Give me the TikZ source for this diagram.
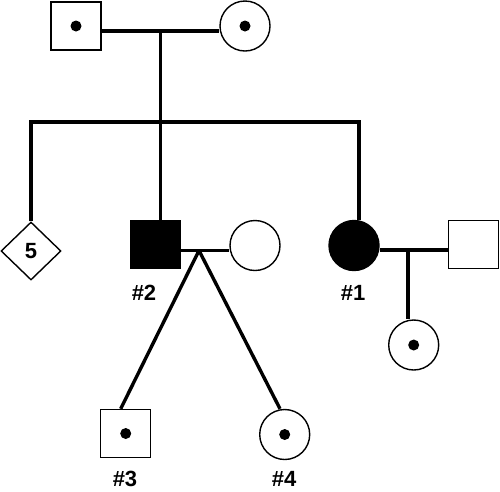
\documentclass[tikz,border=0pt]{standalone}
\usepackage{fontspec}
\setmainfont{Liberation Sans}
\usetikzlibrary{shapes.geometric}

\begin{document}
\begin{tikzpicture}[x=1pt, y=-1pt,
    male/.style = {draw, rectangle, line width=1.4pt, minimum width=50pt, minimum height=48pt, inner sep=0pt},
    female/.style = {draw, circle, line width=1.4pt, minimum size=50pt, inner sep=0pt},
    unknown/.style = {draw, diamond, line width=1.4pt, minimum width=60pt, minimum height=58pt, inner sep=0pt, font=\bfseries\fontsize{22}{22}\selectfont},
    affected/.style = {fill=black},
    carrier/.style = {path picture={\fill (path picture bounding box.center) circle (5.5pt);}},
    tag/.style = {font=\bfseries\fontsize{22}{22}\selectfont},
    link/.style = {line width=3.4pt}]
    \useasboundingbox (0,0) rectangle (500,491);

    \node[male, carrier] (gf) at (76,26) {};
    \node[female, carrier] (gm) at (245,26) {};

    \node[unknown] (sib5) at (31,251) {5};
    \node[male, affected] (p2) at (155.5,244.5) {};
    \node[female] (sp2) at (255,245.5) {};
    \node[female, affected] (p1) at (354,245.5) {};
    \node[male] (sp1) at (473.5,244.5) {};

    \node[male, carrier] (p3) at (125.7,433.5) {};
    \node[female, carrier] (p4) at (284.7,434.5) {};
    \node[female, carrier] (ch1) at (413.7,345) {};

    \node[tag] (l2) at (144,293) {\#2};
    \node[tag] (l1) at (353,293) {\#1};
    \node[tag] (l3) at (125,479) {\#3};
    \node[tag] (l4) at (284,479) {\#4};

    \coordinate (m0) at (160.7,31);
    \coordinate (sib) at (160.7,122);
    \coordinate (m2) at (199,250.5);
    \coordinate (m1) at (408,250);

    \draw[link] (gf.east |- m0) -- (m0 -| gm.west);
    \draw[link] (m0) -- (sib);
    \draw[link] (sib5.north) |- (sib) -| ([xshift=5pt]p1.north);
    \draw[link] (sib) -- (sib |- p2.north);
    \draw[link] (p2.east |- m2) -- (m2 -| sp2.west);
    \draw[link] (m2) -- ([xshift=-5pt]p3.north);
    \draw[link] (m2) -- ([xshift=-4.7pt]p4.north);
    \draw[link] (p1.east |- m1) -- (m1 -| sp1.west);
    \draw[link] (m1) -- (m1 |- ch1.north);
\end{tikzpicture}
\end{document}
